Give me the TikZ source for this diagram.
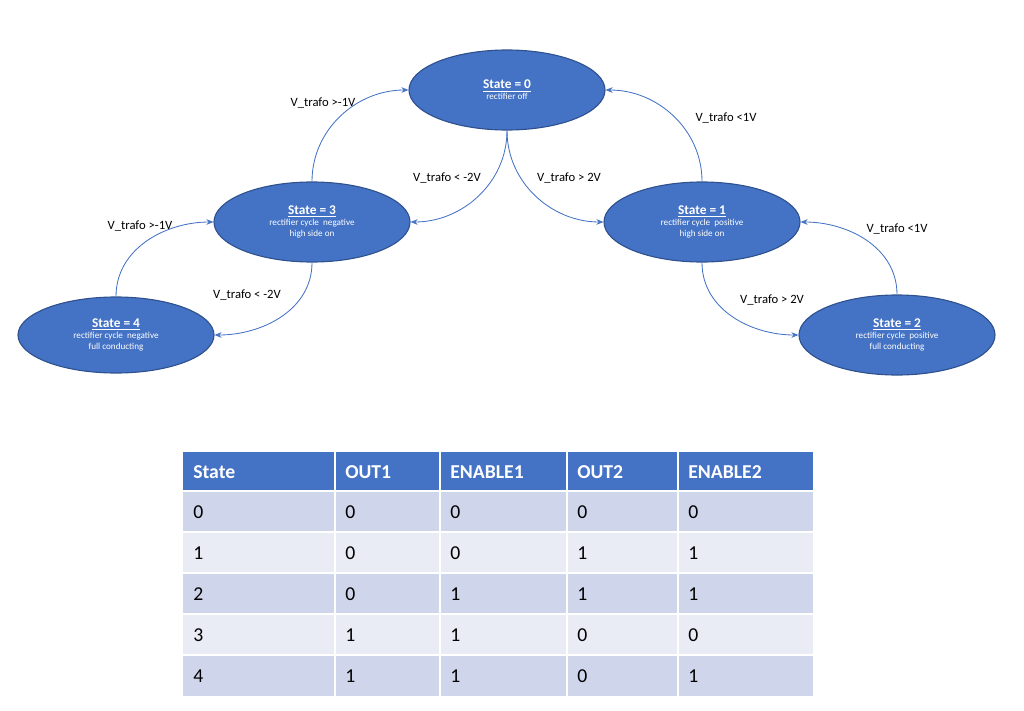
\documentclass[tikz,border=0pt]{standalone}
\usepackage{fontspec}
\setmainfont{Carlito}
\usetikzlibrary{shapes.geometric,arrows.meta}
\definecolor{accent}{HTML}{4472C4}
\definecolor{accentdark}{HTML}{2F528F}
\definecolor{rowa}{HTML}{CFD5EA}
\definecolor{rowb}{HTML}{E9EBF5}
\tikzset{
  state/.style={ellipse, fill=accent, draw=accentdark, line width=0.8pt,
    minimum width=196*0.025cm, minimum height=80*0.025cm, text=white,
    align=center, font=\fontsize{6.5}{8}\selectfont, inner sep=0pt},
  trans/.style={draw=accent, line width=0.6pt, -{Stealth[length=5pt,width=4pt]}},
  guard/.style={font=\fontsize{9}{10}\selectfont, inner sep=1pt},
  cell/.style={font=\fontsize{14}{16}\selectfont, anchor=west, inner sep=0pt}
}
\newcommand{\stitle}[1]{{\fontsize{9.5}{11}\selectfont\bfseries\underline{State = #1}}\\}
\begin{document}
\begin{tikzpicture}[x=0.025cm,y=-0.025cm]
  \useasboundingbox (0,0) rectangle (1024,710);
  % states
  \node[state] (s0) at (507,90) {\stitle{0}rectifier off};
  \node[state] (s3) at (312,222) {\stitle{3}rectifier cycle\ \ negative\\high side on};
  \node[state] (s1) at (702,222) {\stitle{1}rectifier cycle\ \ positive\\high side on};
  \node[state, minimum height=76*0.025cm] (s4) at (116,335) {\stitle{4}rectifier cycle\ \ negative\\full conducting};
  \node[state] (s2) at (897,335) {\stitle{2}rectifier cycle\ \ positive\\full conducting};
  % transitions
  \draw[trans] (s3.north) to[out=90,in=180] (s0.west);
  \draw[trans] (s0.south) to[out=-90,in=0] (s3.east);
  \draw[trans] (s0.south) to[out=-90,in=180] (s1.west);
  \draw[trans] (s1.north) to[out=90,in=0] (s0.east);
  \draw[trans] (s4.north) to[out=90,in=180] (s3.west);
  \draw[trans] (s3.south) to[out=-90,in=0] (s4.east);
  \draw[trans] (s1.south) to[out=-90,in=180] (s2.west);
  \draw[trans] (s2.north) to[out=90,in=0] (s1.east);
  \node[guard] (g30) at (323,103) {V\_trafo >-1V};
  \node[guard] (g03) at (447,178) {V\_trafo < -2V};
  \node[guard] (g01) at (569,178) {V\_trafo > 2V};
  \node[guard] (g10) at (726,118) {V\_trafo <1V};
  \node[guard] (g43) at (140,226) {V\_trafo >-1V};
  \node[guard] (g34) at (247,295) {V\_trafo < -2V};
  \node[guard] (g12) at (772,300) {V\_trafo > 2V};
  \node[guard] (g21) at (897,229) {V\_trafo <1V};
  % table
  \fill[accent] (183,452) rectangle (813,491);
  \foreach \r/\col in {0/rowa,1/rowb,2/rowa,3/rowb,4/rowa}
    \fill[\col] (183,491+41*\r) rectangle (813,532+41*\r);
  \foreach \x in {335,440,567,678}
    \draw[white, line width=1.2pt] (\x,452) -- (\x,697);
  \foreach \r in {0,...,4}
    \draw[white, line width=1.2pt] (183,491+41*\r) -- (813,491+41*\r);
  \foreach \t [count=\i] in {State,OUT1,ENABLE1,OUT2,ENABLE2}{
    \pgfmathsetmacro{\cx}{{183,335,440,567,678}[\i-1]+10}
    \node[cell, text=white, font=\fontsize{14}{16}\selectfont\bfseries] (h\i) at (\cx,472) {\t};
  }
  \foreach \a/\b/\c/\d/\e [count=\r from 0] in {0/0/0/0/0,1/0/0/1/1,2/0/1/1/1,3/1/1/0/0,4/1/1/0/1}{
    \node[cell] (c\r a) at (193,512+41*\r) {\a};
    \node[cell] (c\r b) at (345,512+41*\r) {\b};
    \node[cell] (c\r c) at (450,512+41*\r) {\c};
    \node[cell] (c\r d) at (577,512+41*\r) {\d};
    \node[cell] (c\r e) at (688,512+41*\r) {\e};
  }
\end{tikzpicture}
\end{document}
